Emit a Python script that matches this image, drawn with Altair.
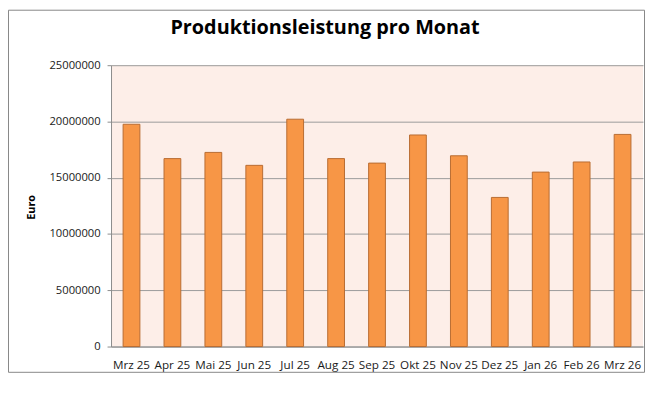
import altair as alt
import pandas as pd

title_text = "Produktionsleistung pro Monat"
months = ["Mrz 25", "Apr 25", "Mai 25", "Jun 25", "Jul 25", "Aug 25", "Sep 25",
          "Okt 25", "Nov 25", "Dez 25", "Jan 26", "Feb 26", "Mrz 26"]
values = [19750000, 16700000, 17250000, 16100000, 20200000, 16700000, 16300000,
          18800000, 16950000, 13250000, 15500000, 16400000, 18850000]
y_ticks = [0, 5000000, 10000000, 15000000, 20000000, 25000000]
y_title = "Euro"

df = pd.DataFrame({"Monat": months, "Euro": values})
one = pd.DataFrame({"t": [title_text]})

W, H = 537, 284
FONT = "Open Sans"

bars = alt.Chart(df).mark_bar(
    color="#F79646", stroke="#B86C33", strokeWidth=1
).encode(
    x=alt.X("Monat:N", sort=months,
            scale=alt.Scale(paddingInner=0.59, paddingOuter=0.295),
            axis=alt.Axis(title=None, labelAngle=0, ticks=False, labelPadding=13,
                          labelFontSize=11.8, labelFont=FONT, labelColor="#1a1a1a",
                          domainColor="#8c8c8c", labelOverlap=False)),
    y=alt.Y("Euro:Q", scale=alt.Scale(domain=[0, 25000000], nice=False),
            axis=alt.Axis(values=y_ticks, format="d", title=y_title,
                          titleFont=FONT, titleFontSize=11, titleFontWeight="bold",
                          titleColor="#000", titleX=-80, titleY=143, titleAngle=-90,
                          titleAlign="center", titleBaseline="middle",
                          labelFont=FONT, labelFontSize=11.3, labelColor="#1a1a1a",
                          labelPadding=7, tickSize=4, tickColor="#8c8c8c",
                          domainColor="#8c8c8c", gridColor="#9a9a9a", grid=True))
)

title = alt.Chart(one).mark_text(
    font=FONT, fontSize=20, fontWeight="bold", color="#000",
    align="center", baseline="middle"
).encode(text="t:N", x=alt.value(216), y=alt.value(-37))

frame = alt.Chart(one).mark_rect(
    fill=None, stroke="#878787", strokeWidth=1
).encode(x=alt.value(-103.5), x2=alt.value(538.5), y=alt.value(-55.5), y2=alt.value(310))

chart = alt.layer(bars, title, frame).properties(
    width=W, height=H,
    autosize=alt.AutoSizeParams(type="none"),
    padding={"left": 104, "top": 56, "right": 2, "bottom": 28},
    background="white",
).configure_view(fill="#FDEEE8", stroke=None)

chart.save("out.html", embed_options={"renderer": "svg", "actions": False})
